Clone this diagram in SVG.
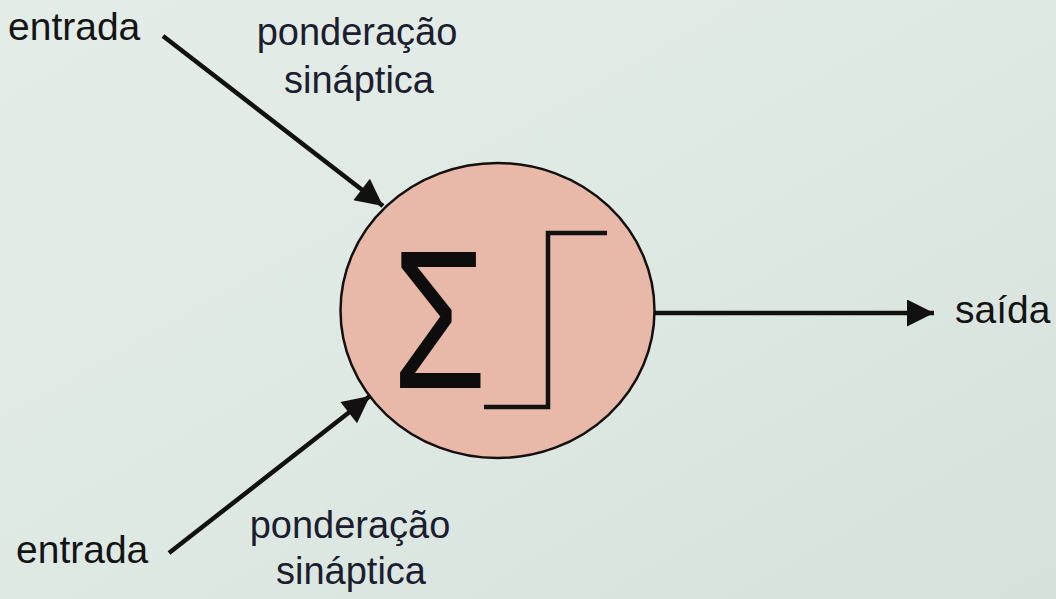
<svg xmlns="http://www.w3.org/2000/svg" width="1056" height="599" viewBox="0 0 1056 599">
<defs>
<linearGradient id="bg" x1="0" y1="0" x2="1" y2="1">
<stop offset="0" stop-color="#e4ece7"/>
<stop offset="0.5" stop-color="#dfe9e4"/>
<stop offset="1" stop-color="#d7e1dc"/>
</linearGradient>
<marker id="ah" viewBox="0 0 10 10" refX="10" refY="5" markerWidth="7.5" markerHeight="6" markerUnits="strokeWidth" orient="auto">
<path d="M0,0 L10,5 L0,10 z" fill="#111"/>
</marker>
<style>
.lbl{font-family:"Liberation Sans",Arial,sans-serif;font-size:39px;fill:#141414}
.pond{font-family:"Liberation Sans",Arial,sans-serif;font-size:38px;fill:#1c1e30;text-anchor:middle}
.conn{stroke:#111;stroke-width:4.5;fill:none;marker-end:url(#ah)}
</style>
</defs>
<rect width="1056" height="599" fill="url(#bg)"/>
<g id="connectors">
<line class="conn" x1="163" y1="36" x2="383" y2="206"/>
<line class="conn" x1="169" y1="553" x2="370" y2="396"/>
<line class="conn" x1="655" y1="313" x2="934" y2="313"/>
</g>
<g id="neuron">
<ellipse cx="497.5" cy="310.5" rx="157" ry="147.5" fill="#e8b8a8" stroke="#151010" stroke-width="2.5"/>
<text x="0" y="0" font-family="'Liberation Sans',Arial,sans-serif" font-size="196" fill="#0d0d0d" transform="translate(392,388) scale(0.78,1)">Σ</text>
<polyline points="484,407 548,407 548,233 607,233" fill="none" stroke="#121212" stroke-width="4.5"/>
</g>
<g id="input-top">
<text class="lbl" x="8" y="40">entrada</text>
</g>
<g id="weight-top">
<text class="pond" x="357" y="45">ponderação</text>
<text class="pond" x="359" y="93">sináptica</text>
</g>
<g id="input-bottom">
<text class="lbl" x="16" y="563">entrada</text>
</g>
<g id="weight-bottom">
<text class="pond" x="350" y="538">ponderação</text>
<text class="pond" x="351" y="584">sináptica</text>
</g>
<g id="output">
<text class="lbl" x="955" y="323">saída</text>
</g>
</svg>
